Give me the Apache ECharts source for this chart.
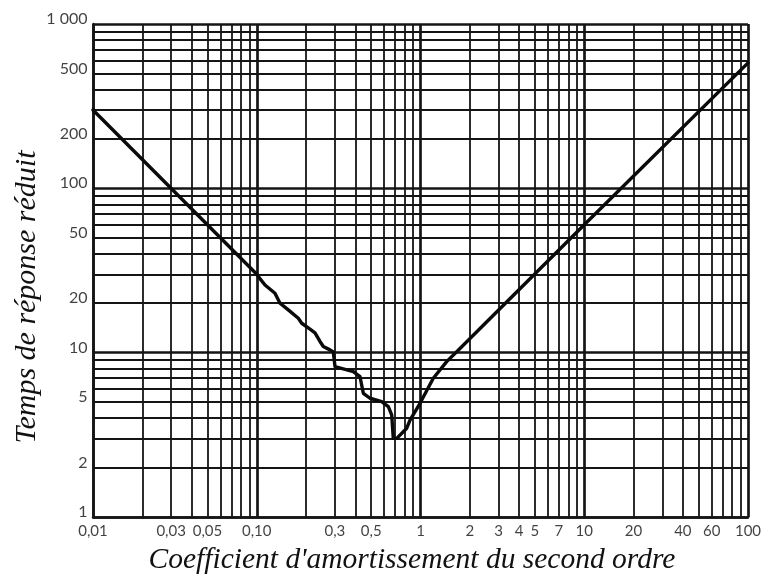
<!DOCTYPE html>
<html>
<head>
<meta charset="utf-8">
<script src="https://cdn.jsdelivr.net/npm/echarts@6/dist/echarts.min.js"></script>
<style>
html,body{margin:0;padding:0;background:#fff;}
#chart{width:763px;height:580px;}
</style>
</head>
<body>
<div id="chart"></div>
<script>
// ---- data ----
const coeff = [0.01, 0.1, 0.1023, 0.1123, 0.1292, 0.1387, 0.1558, 0.1794, 0.1882, 0.2115, 0.2268, 0.2434, 0.2549, 0.28, 0.2934,
  0.3006, 0.3888, 0.4272, 0.4476, 0.4916, 0.5794, 0.636, 0.667, 0.682, 0.716, 0.824, 0.863, 0.993, 1.197, 1.445, 1.742, 2.254, 10, 100];
const temps = [300, 30, 29.0, 25.8, 23.0, 20.0, 18.2, 16.2, 15.1, 13.9, 13.2, 11.7, 10.9, 10.4, 10.1,
  8.22, 7.66, 7.14, 5.66, 5.28, 5.03, 4.69, 4.18, 3.01, 3.01, 3.47, 3.89, 4.92, 6.99, 8.82, 10.6, 13.7, 60, 580];

const xTickValues = [0.01, 0.03, 0.05, 0.1, 0.3, 0.5, 1, 2, 3, 4, 5, 7, 10, 20, 40, 60, 100];
const xTickLabels = ['0,01', '0,03', '0,05', '0,10', '0,3', '0,5', '1', '2', '3', '4', '5', '7', '10', '20', '40', '60', '100'];
const yTickValues = [1, 2, 5, 10, 20, 50, 100, 200, 500, 1000];
const yTickLabels = ['1', '2', '5', '10', '20', '50', '100', '200', '500', '1 000'];

const xMajorGrid = [0.01, 0.1, 1, 10, 100];
const xMinorGrid = [0.02, 0.03, 0.04, 0.05, 0.06, 0.07, 0.08, 0.09,
  0.2, 0.3, 0.4, 0.5, 0.6, 0.7, 0.8, 0.9,
  2, 3, 4, 5, 6, 7, 8, 9,
  20, 30, 40, 50, 60, 70, 80, 90];
const yMajorGrid = [1, 10, 100, 1000];
const yMinorGrid = [2, 3, 4, 5, 6, 7, 8, 9,
  20, 30, 40, 50, 60, 70, 80, 90,
  200, 300, 400, 500, 600, 700, 800, 900];

const xTitle = "Coefficient d'amortissement du second ordre";
const yTitle = 'Temps de réponse réduit';

const X_MIN = 0.01, X_MAX = 100, Y_MIN = 1, Y_MAX = 1000;
const INK = '#151515';
const labelFont = 'Lato, "Noto Sans", sans-serif';
const titleFont = '"Liberation Serif", "DejaVu Serif", serif';

const chart = echarts.init(document.getElementById('chart'), null, {renderer: 'canvas'});

function gridLines(vals, key, width) {
  return vals.map(v => ({[key]: v, lineStyle: {width: width, color: INK, type: 'solid'}}));
}

const option = {
  animation: false,
  backgroundColor: '#fff',
  grid: {left: 93, top: 24, right: 15, bottom: 63},
  xAxis: {
    type: 'log', logBase: 10, min: X_MIN, max: X_MAX,
    axisLine: {show: true, lineStyle: {color: INK, width: 2.5}},
    axisTick: {show: false}, axisLabel: {show: false},
    splitLine: {show: false}, minorSplitLine: {show: false}
  },
  yAxis: {
    type: 'log', logBase: 10, min: Y_MIN, max: Y_MAX,
    axisLine: {show: true, lineStyle: {color: INK, width: 2.5}},
    axisTick: {show: false}, axisLabel: {show: false},
    splitLine: {show: false}, minorSplitLine: {show: false}
  },
  graphic: [
    {type: 'text', x: 412, y: 560,
      style: {text: xTitle, font: 'italic 29.5px ' + titleFont, fill: '#111', align: 'center', verticalAlign: 'middle'}},
    {type: 'text', x: 27, y: 297, rotation: Math.PI / 2,
      style: {text: yTitle, font: 'italic 30px ' + titleFont, fill: '#111', align: 'center', verticalAlign: 'middle'}}
  ],
  series: [
    {
      type: 'line', name: 'grid', data: [], silent: true,
      markLine: {
        silent: true, symbol: ['none', 'none'], label: {show: false}, animation: false,
        data: [].concat(
          gridLines(xMinorGrid, 'xAxis', 1.8),
          gridLines(yMinorGrid, 'yAxis', 1.8),
          gridLines(xMajorGrid, 'xAxis', 2.7),
          gridLines(yMajorGrid, 'yAxis', 2.7)
        )
      }
    },
    {
      type: 'line', name: 'courbe', z: 5,
      data: coeff.map((c, i) => [c, temps[i]]),
      symbol: 'none', smooth: false,
      lineStyle: {color: '#0a0a0a', width: 3.4, join: 'round', cap: 'round'}
    },
    {
      type: 'scatter', name: 'xlabels', silent: true, clip: false, z: 6,
      data: xTickValues.map((v, i) => ({value: [v, Y_MIN], name: xTickLabels[i]})),
      symbolSize: 1, itemStyle: {color: 'rgba(0,0,0,0)'},
      label: {show: true, position: 'bottom', distance: 6, formatter: p => p.name,
        color: '#111', fontFamily: labelFont, fontSize: 15}
    },
    {
      type: 'scatter', name: 'ylabels', silent: true, clip: false, z: 6,
      data: yTickValues.map((v, i) => ({value: [X_MIN, v], name: yTickLabels[i]})),
      symbolSize: 1, itemStyle: {color: 'rgba(0,0,0,0)'},
      label: {show: true, position: 'left', distance: 5, offset: [0, -5], formatter: p => p.name,
        color: '#111', fontFamily: labelFont, fontSize: 16}
    }
  ]
};
chart.setOption(option);
</script>
</body>
</html>
